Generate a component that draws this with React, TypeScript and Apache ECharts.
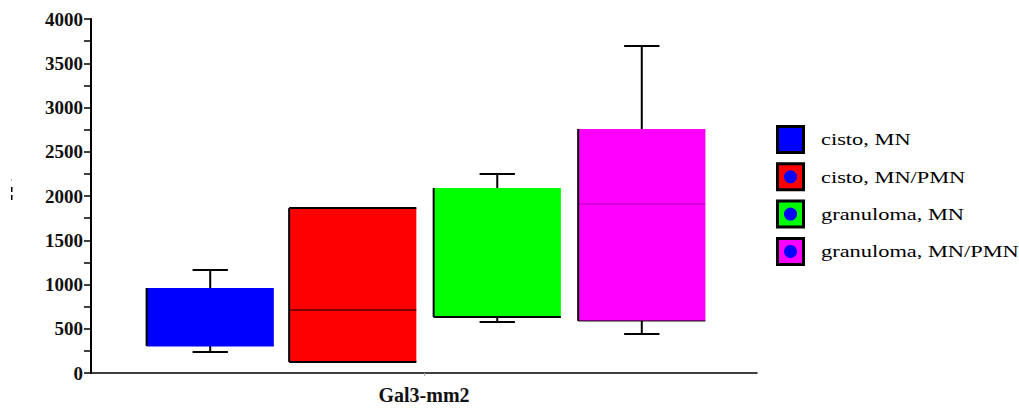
import React, { useEffect, useRef } from "react";
import * as echarts from "echarts";

// ---- data ----
const categories = ["Gal3-mm2"];
const seriesNames = ["cisto, MN", "cisto, MN/PMN", "granuloma, MN", "granuloma, MN/PMN"];
// [min, Q1, median, Q3, max]
const cistoMN = [237, 305, 305, 960, 1164];
const cistoMNPMN = [124, 124, 712, 1864, 1864];
const granulomaMN = [576, 633, 633, 2090, 2249];
const granulomaMNPMN = [441, 588, 1910, 2757, 3695];
const allSeries = [cistoMN, cistoMNPMN, granulomaMN, granulomaMNPMN];
const yMin = 0;
const yMax = 4000;
const yInterval = 500;

// ---- styles ----
const serif = "'Liberation Serif', 'Times New Roman', Times, serif";
const boxColors = ["#0000ff", "#ff0000", "#00ff00", "#ff00ff"];
const medianColors = ["#0000ff", "#000000", "#000000", "#b000b0"];
const topBorderWidth = [0, 2, 0, 0];
const bottomBorderWidth = [0, 2, 2, 1];
const boxOffsets = [-0.321, -0.107, 0.11, 0.327];
const boxFrac = 0.191;
const capFrac = 0.053;
const legendHasDot = [false, true, true, true];

function makeRenderItem(sIdx: number) {
  return (params: any, api: any) => {
    const catX = api.coord([api.value(0), 0])[0];
    const band = api.size([1, 0])[0];
    const cx = catX + boxOffsets[sIdx] * band;
    const half = (boxFrac * band) / 2;
    const capHalf = (capFrac * band) / 2;
    const y = (v: number) => api.coord([api.value(0), v])[1];
    const vMin = api.value(1);
    const vQ1 = api.value(2);
    const vMed = api.value(3);
    const vQ3 = api.value(4);
    const vMax = api.value(5);
    const yQ1 = y(vQ1);
    const yQ3 = y(vQ3);
    const x0 = cx - half;
    const x1 = cx + half;
    const children: any[] = [];
    if (vMax > vQ3) {
      children.push({ type: "line", shape: { x1: cx, y1: yQ3, x2: cx, y2: y(vMax) }, style: { stroke: "#000", lineWidth: 2 } });
      children.push({ type: "line", shape: { x1: cx - capHalf, y1: y(vMax), x2: cx + capHalf, y2: y(vMax) }, style: { stroke: "#000", lineWidth: 2 } });
    }
    if (vMin < vQ1) {
      children.push({ type: "line", shape: { x1: cx, y1: yQ1, x2: cx, y2: y(vMin) }, style: { stroke: "#000", lineWidth: 2 } });
      children.push({ type: "line", shape: { x1: cx - capHalf, y1: y(vMin), x2: cx + capHalf, y2: y(vMin) }, style: { stroke: "#000", lineWidth: 2 } });
    }
    children.push({ type: "rect", shape: { x: x0, y: yQ3, width: x1 - x0, height: yQ1 - yQ3 }, style: { fill: boxColors[sIdx] } });
    children.push({ type: "line", shape: { x1: x0, y1: y(vMed), x2: x1, y2: y(vMed) }, style: { stroke: medianColors[sIdx], lineWidth: 1 } });
    children.push({ type: "line", shape: { x1: x0, y1: yQ3, x2: x0, y2: yQ1 }, style: { stroke: "#000", lineWidth: 2 } });
    if (topBorderWidth[sIdx] > 0) {
      children.push({ type: "line", shape: { x1: x0, y1: yQ3, x2: x1, y2: yQ3 }, style: { stroke: "#000", lineWidth: topBorderWidth[sIdx] } });
    }
    if (bottomBorderWidth[sIdx] > 0) {
      children.push({ type: "line", shape: { x1: x0, y1: yQ1, x2: x1, y2: yQ1 }, style: { stroke: "#000", lineWidth: bottomBorderWidth[sIdx] } });
    }
    return { type: "group", children };
  };
}

export default function App() {
  const ref = useRef<HTMLDivElement>(null);
  useEffect(() => {
    if (!ref.current) return;
    const chart = echarts.init(ref.current, undefined, { renderer: "svg" });

    const graphics: any[] = [];
    seriesNames.forEach((name, i) => {
      const top = 125 + 37.3 * i;
      graphics.push({
        type: "rect",
        shape: { x: 777.5, y: top + 1.5, width: 26, height: 26 },
        style: { fill: boxColors[i], stroke: "#000", lineWidth: 3 },
      });
      if (legendHasDot[i]) {
        graphics.push({
          type: "circle",
          shape: { cx: 790.5, cy: top + 14.5, r: 6.5 },
          style: { fill: "#0000ff" },
        });
      }
      graphics.push({
        type: "text",
        x: 821,
        y: top + 15,
        scaleX: 1.4,
        style: {
          text: name,
          fill: "#000",
          fontSize: 16,
          fontFamily: serif,
          align: "left",
          verticalAlign: "middle",
          textAlign: "left",
          textVerticalAlign: "middle",
        },
      });
    });
    graphics.push({ type: "rect", shape: { x: 11, y: 179, width: 1, height: 2 }, style: { fill: "#aaa" } });
    graphics.push({ type: "rect", shape: { x: 11, y: 187, width: 1.5, height: 5 }, style: { fill: "#000" } });
    graphics.push({ type: "rect", shape: { x: 11, y: 195, width: 1.5, height: 5 }, style: { fill: "#000" } });

    chart.setOption({
      animation: false,
      backgroundColor: "#fff",
      grid: { left: 91, right: 1019 - 757, top: 19, bottom: 35, containLabel: false },
      xAxis: {
        type: "category",
        data: categories,
        axisLine: { show: true, lineStyle: { color: "#000", width: 1.5 } },
        axisTick: { show: true, alignWithLabel: true, length: 3, lineStyle: { color: "#aaa" } },
        axisLabel: { fontFamily: serif, fontWeight: "bold", fontSize: 20, color: "#111", margin: 12 },
        splitLine: { show: false },
      },
      yAxis: {
        type: "value",
        min: yMin,
        max: yMax,
        interval: yInterval,
        axisLine: { show: true, lineStyle: { color: "#000", width: 2 } },
        axisTick: { show: true, length: 7, lineStyle: { color: "#000", width: 1.5 } },
        minorTick: { show: true, splitNumber: 2, length: 7, lineStyle: { color: "#000", width: 1.5 } },
        axisLabel: {
          fontFamily: serif,
          fontWeight: "bold",
          fontSize: 19,
          color: "#111",
          margin: 8,
          formatter: (v: number) => String(v),
        },
        splitLine: { show: false },
      },
      graphic: graphics,
      series: allSeries.map((vals, i) => ({
        type: "custom",
        name: seriesNames[i],
        renderItem: makeRenderItem(i),
        encode: { x: 0, y: [1, 2, 3, 4, 5] },
        data: [[0, ...vals]],
      })),
    });
    return () => chart.dispose();
  }, []);
  return (
    <div
      ref={ref}
      style={{ position: "absolute", left: 0, top: 0, width: "1019px", height: "408px" }}
    />
  );
}
